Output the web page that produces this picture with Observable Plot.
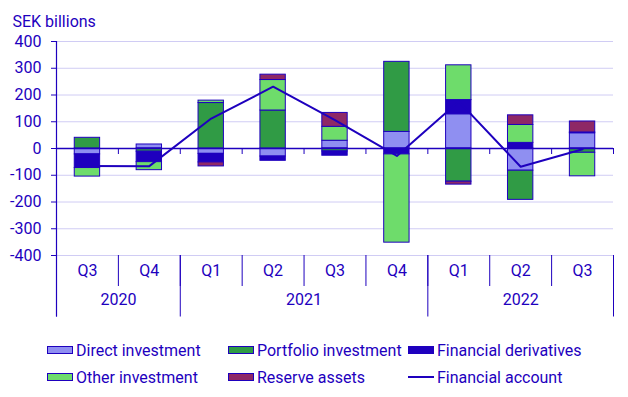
<!DOCTYPE html>
<html>
<head>
<meta charset="utf-8">
<script src="https://cdn.jsdelivr.net/npm/d3@7"></script>
<script src="https://cdn.jsdelivr.net/npm/@observablehq/plot@0.6"></script>
<style>
  html, body { margin: 0; padding: 0; background: #fff; }
  body { width: 628px; height: 397px; overflow: hidden; font-family: Roboto, sans-serif; color: #1E00BE; }
  #legend { position: relative; height: 67px; font-size: 16px; }
  .item { position: absolute; display: flex; align-items: center; height: 20px; white-space: nowrap; }
  .sw { width: 24px; height: 6px; border: 1px solid #1E00BE; margin-right: 3px; }
  .ln { width: 26px; height: 2px; background: #1E00BE; margin-right: 3px; }
</style>
</head>
<body>
<div id="chart"></div>
<div id="legend"></div>
<script>
// ---- data (SEK billions) ----
const quarters = ["2020 Q3","2020 Q4","2021 Q1","2021 Q2","2021 Q3","2021 Q4","2022 Q1","2022 Q2","2022 Q3"];
const quarterLabels = ["Q3","Q4","Q1","Q2","Q3","Q4","Q1","Q2","Q3"];
const years = ["2020","2021","2022"];
const yearQuarterCounts = [2, 4, 3];
const seriesNames = ["Direct investment","Portfolio investment","Financial derivatives","Other investment","Reserve assets"];
const directInvestment     = [-22,  15, -20, -30,  29,   62,  128,  -83,  57];
const portfolioInvestment  = [ 40, -12, 170, 142, -11,  262, -124, -109, -16];
const financialDerivatives = [-51, -39, -32, -16, -16,  -22,   53,   21,   3];
const otherInvestment      = [-32, -30,   9, 114,  52, -330,  130,   67, -88];
const reserveAssets        = [  0,   0, -15,  20,  52,    0,  -11,   36,  41];
const financialAccount     = [-65, -66, 112, 231, 106,  -28,  176,  -68,  -3];
const yTicks = [-400,-300,-200,-100,0,100,200,300,400];
const lineName = "Financial account";
const unitLabel = "SEK billions";

// ---- styling ----
const blue = "#1E00BE";
const gridColor = "#D0CCF4";
const colors = ["#8F8FF1", "#309B45", "#1E00BE", "#6EDC6B", "#8E2866"];

const seriesValues = [directInvestment, portfolioInvestment, financialDerivatives, otherInvestment, reserveAssets];
const flows = [];
seriesNames.forEach((s, k) => quarters.forEach((q, i) => flows.push({quarter: q, series: s, value: seriesValues[k][i]})));
const account = quarters.map((q, i) => ({quarter: q, value: financialAccount[i]}));

const W = 628, H = 330, mt = 41, mb = 75, ml = 56, mr = 15;
const step = (W - ml - mr) / quarters.length;
const last = quarters[quarters.length - 1];
const yearStarts = [];
{ let k = 0; yearQuarterCounts.forEach(c => { yearStarts.push(quarters[k]); k += c; }); }

const chart = Plot.plot({
  width: W, height: H,
  marginTop: mt, marginBottom: mb, marginLeft: ml, marginRight: mr,
  style: {fontFamily: "Roboto, sans-serif", fontSize: "16px", color: blue, background: "white"},
  x: {type: "band", domain: quarters, paddingInner: 0.59, paddingOuter: 0.295, round: false, axis: null},
  y: {domain: [-400, 400], ticks: yTicks, tickSize: 5, tickPadding: 10, label: null, tickFormat: d => String(d)},
  color: {domain: seriesNames, range: colors},
  marks: [
    Plot.ruleY(yTicks, {stroke: gridColor, strokeWidth: 1}),
    Plot.barY(flows, {x: "quarter", y: "value", fill: "series", stroke: blue, strokeWidth: 1}),
    Plot.ruleY([0], {stroke: blue, strokeWidth: 1.5}),
    Plot.lineY(account, {x: "quarter", y: "value", stroke: blue, strokeWidth: 2}),
    // ticks on zero line at quarter boundaries
    Plot.ruleX(quarters, {y1: 0, y2: 0, dx: -step / 2, insetBottom: -6, stroke: blue}),
    Plot.ruleX([last], {y1: 0, y2: 0, dx: step / 2, insetBottom: -6, stroke: blue}),
    // y axis line (continues down as first year separator)
    Plot.ruleX([quarters[0]], {y1: 400, y2: -400, dx: -step / 2, insetBottom: -61.5, stroke: blue, strokeWidth: 1.2}),
    // quarter separators below the frame
    Plot.ruleX(quarters, {y1: -400, y2: -400, dx: -step / 2, insetBottom: -31, stroke: blue}),
    // year separators
    Plot.ruleX(yearStarts, {y1: -400, y2: -400, dx: -step / 2, insetBottom: -61.5, stroke: blue}),
    Plot.ruleX([last], {y1: -400, y2: -400, dx: step / 2, insetBottom: -61.5, stroke: blue}),
    // quarter labels
    Plot.text(quarters, {x: d => d, text: (d, i) => quarterLabels[i], frameAnchor: "bottom", dy: 20.5, fill: blue, fontSize: 16}),
    // year labels
    ...years.map((y, j) => Plot.text([y], {x: () => yearStarts[j], text: d => d, frameAnchor: "bottom", dy: 49.5, dx: (yearQuarterCounts[j] - 1) * step / 2, fill: blue, fontSize: 16})),
    // unit title
    Plot.text([unitLabel], {text: d => d, frameAnchor: "top-left", textAnchor: "start", dx: -44, dy: -26, fill: blue, fontSize: 16})
  ]
});
document.getElementById("chart").appendChild(chart);

// ---- legend ----
const legend = document.getElementById("legend");
const legendItems = [
  {name: seriesNames[0], color: colors[0], col: 0, row: 0},
  {name: seriesNames[1], color: colors[1], col: 1, row: 0},
  {name: seriesNames[2], color: colors[2], col: 2, row: 0},
  {name: seriesNames[3], color: colors[3], col: 0, row: 1},
  {name: seriesNames[4], color: colors[4], col: 1, row: 1},
  {name: lineName, color: null, col: 2, row: 1}
];
const colX = [47, 228, 408];
legendItems.forEach(it => {
  const d = document.createElement("div");
  d.className = "item";
  d.style.left = colX[it.col] + "px";
  d.style.top = (10 + it.row * 27) + "px";
  const s = document.createElement("span");
  if (it.color) { s.className = "sw"; s.style.background = it.color; } else { s.className = "ln"; }
  d.appendChild(s);
  const t = document.createElement("span");
  t.textContent = it.name;
  d.appendChild(t);
  legend.appendChild(d);
});
</script>
</body>
</html>
